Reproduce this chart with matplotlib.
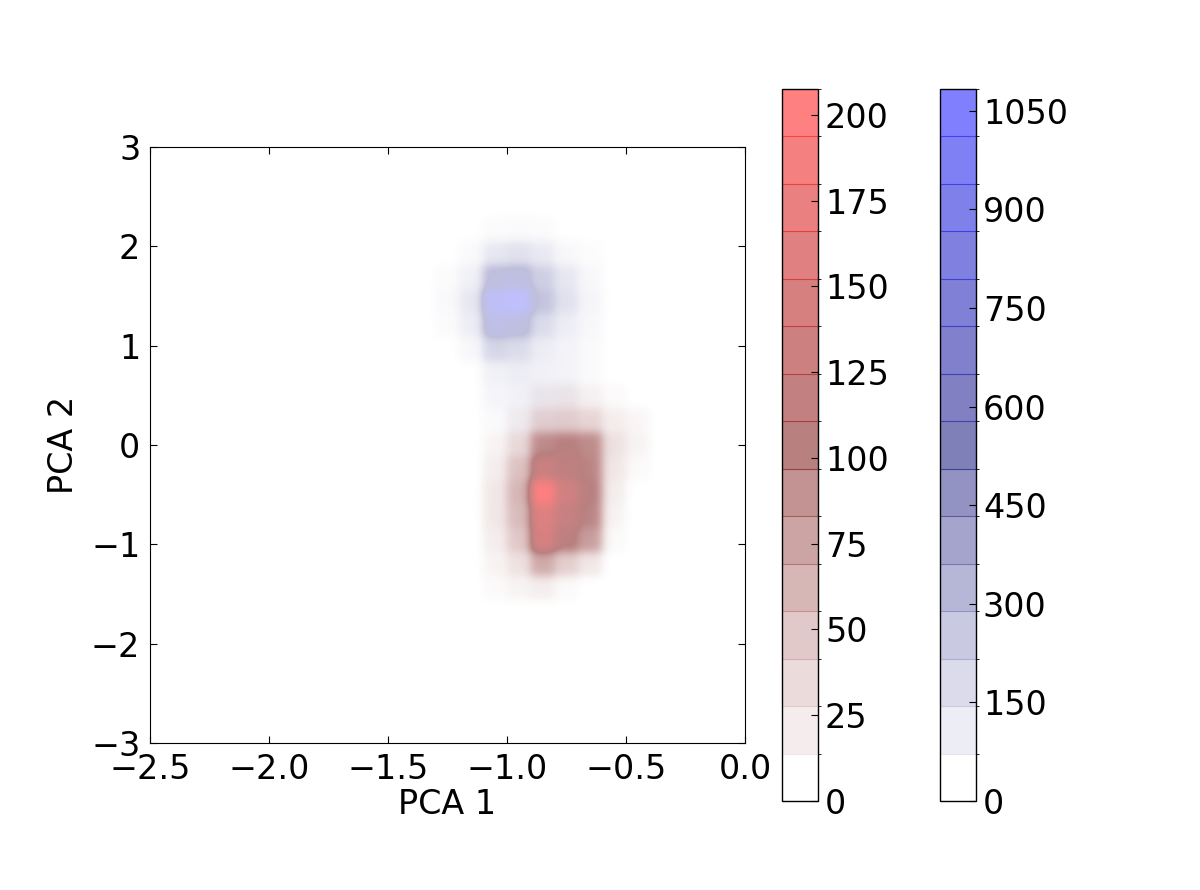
import numpy as np
import matplotlib
matplotlib.use("Agg")
import matplotlib.pyplot as plt
from matplotlib.colors import LinearSegmentedColormap, ListedColormap, BoundaryNorm
from matplotlib.cm import ScalarMappable

plt.rcParams["font.family"] = "DejaVu Sans"
plt.rcParams["font.size"] = 24

# 2D histogram grid: 25 x 25 bins over x [-2.5, 0], y [-3, 3]
NBINS = 25
X_RANGE = (-2.5, 0.0)
Y_RANGE = (-3.0, 3.0)
COL0 = 12          # first column of the stored sub-blocks
RED_ROW0 = 6       # first row (bottom) of the red sub-block
BLUE_ROW0 = 12     # first row (bottom) of the blue sub-block

# red counts, rows bottom -> top, columns 12..20
RED_COUNTS = [
    [0, 0, 5, 10, 15, 5, 0, 0, 0],
    [0, 0, 10, 25, 70, 40, 20, 0, 0],
    [0, 0, 15, 45, 150, 110, 80, 5, 0],
    [0, 0, 20, 55, 160, 125, 100, 10, 0],
    [0, 0, 20, 60, 207, 140, 105, 15, 0],
    [0, 0, 15, 50, 130, 115, 100, 20, 5],
    [0, 0, 10, 30, 95, 105, 95, 25, 10],
    [0, 0, 0, 10, 35, 40, 35, 15, 8],
    [0, 0, 0, 0, 10, 15, 10, 5, 0],
]
# blue counts, rows bottom -> top, columns 12..20
BLUE_COUNTS = [
    [0, 0, 0, 20, 10, 0, 0, 0, 0],
    [0, 0, 40, 80, 60, 30, 0, 0, 0],
    [0, 0, 80, 120, 120, 90, 30, 0, 0],
    [0, 0, 120, 150, 120, 100, 40, 0, 0],
    [0, 60, 350, 300, 150, 100, 40, 0, 0],
    [30, 150, 750, 650, 300, 150, 60, 0, 0],
    [50, 200, 1000, 1083, 500, 250, 80, 0, 0],
    [30, 120, 600, 650, 400, 200, 60, 0, 0],
    [0, 40, 200, 250, 180, 60, 20, 0, 0],
    [0, 0, 30, 40, 30, 0, 0, 0, 0],
]
RED_MAX = 207.5
BLUE_MAX = 1083.0
RED_TICKS = [0, 25, 50, 75, 100, 125, 150, 175, 200]
BLUE_TICKS = [0, 150, 300, 450, 600, 750, 900, 1050]
N_BANDS = 15
UPS = 2            # sub-cells per bin so the smoothing stays local


def grid(block, row0):
    g = np.zeros((NBINS, NBINS))
    b = np.array(block, dtype=float)
    g[row0:row0 + b.shape[0], COL0:COL0 + b.shape[1]] = b
    return np.kron(g, np.ones((UPS, UPS)))


red = grid(RED_COUNTS, RED_ROW0)
blue = grid(BLUE_COUNTS, BLUE_ROW0)

cm_red = LinearSegmentedColormap.from_list("wr", [(1, 1, 1), (0.45, 0, 0), (1, 0, 0)])
cm_blue = LinearSegmentedColormap.from_list("wb", [(1, 1, 1), (0, 0, 0.45), (0, 0, 1)])

fig = plt.figure(figsize=(12, 8.9), dpi=100)
ax = fig.add_axes([0.125, 0.1652, 0.4958, 0.6697])
ext = [X_RANGE[0], X_RANGE[1], Y_RANGE[0], Y_RANGE[1]]
ax.imshow(blue, origin="lower", extent=ext, aspect="auto", interpolation="gaussian",
          cmap=cm_blue, vmin=0, vmax=BLUE_MAX, alpha=0.5)
ax.imshow(red, origin="lower", extent=ext, aspect="auto", interpolation="gaussian",
          cmap=cm_red, vmin=0, vmax=RED_MAX, alpha=0.5)
ax.set_xlim(*X_RANGE)
ax.set_ylim(*Y_RANGE)
ax.set_xticks(np.arange(-2.5, 0.01, 0.5))
ax.set_yticks(np.arange(-3, 3.1, 1))
ax.tick_params(direction="in", top=True, right=True, length=5, width=0.8, pad=7)
ax.set_xlabel("PCA 1", labelpad=2)
ax.set_ylabel("PCA 2", labelpad=8)


def banded_cbar(left, cmap, vmax, ticks):
    cax = fig.add_axes([left, 0.1, 0.03, 0.8])
    bounds = np.linspace(0, vmax, N_BANDS + 1)
    cols = [0.5 * np.array(cmap(i / (N_BANDS - 1))) + 0.5 for i in range(N_BANDS)]
    lcm = ListedColormap(cols)
    cb = fig.colorbar(ScalarMappable(norm=BoundaryNorm(bounds, N_BANDS), cmap=lcm), cax=cax)
    for i, b in enumerate(bounds[1:-1]):
        c = np.array(cmap((i + 1) / (N_BANDS - 1)))
        cax.axhline(b, color=0.75 * c + 0.25, lw=0.8)
    cb.set_ticks(ticks)
    cb.ax.tick_params(direction="in", length=5, width=0.8, pad=5)
    cb.outline.set_linewidth(1.0)
    return cb


banded_cbar(0.6517, cm_red, RED_MAX, RED_TICKS)
banded_cbar(0.7833, cm_blue, BLUE_MAX, BLUE_TICKS)

fig.savefig("out.png", dpi=100)
